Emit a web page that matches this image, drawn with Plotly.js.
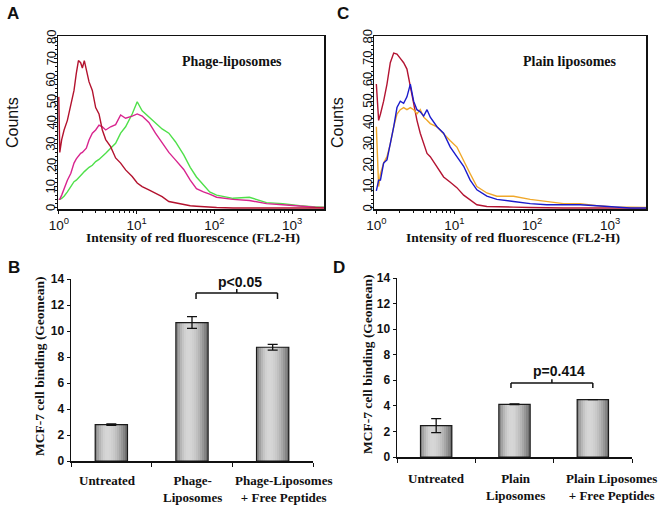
<!DOCTYPE html>
<html><head><meta charset="utf-8">
<script src="https://cdn.plot.ly/plotly-3.0.1.min.js"></script>
<style>html,body{margin:0;padding:0;background:#fff}#chart{width:663px;height:509px}</style>
</head><body><div id="chart"></div>
<script>
// ---------- Panel A: flow cytometry histograms (Phage-liposomes) ----------
const fluorA = [1.00,1.03,1.09,1.17,1.29,1.43,1.57,1.68,1.79,1.91,2.01,2.13,2.26,2.45,2.70,2.98,3.29,3.63,4.01,4.64,5.38,6.24,7.23,8.79,10.2,11.8,14.4,17.5,21.3,26.0,31.6,40.4,49.0,58.9,72.4,87.1,107,174,282,468,759,1259,1995,2570];
const countsA_untreated = [52,26,32,36.5,41,49,55,63,69,68,65.5,69,64,59,55,47,44,36.5,32,28.7,23.4,21,17.8,14.7,11.7,10,8.4,7,5.3,3,2.3,1.4,1,0.8,0.5,0.3,0.2,0,0,0,0,0,0,0];
const countsA_peptides  = [4,4,6,9,13,16.2,21,23,24.5,25.6,26,27,28,31.8,35,36.5,38.8,38,36.5,38,39,43.5,42,43,44,43,40,35,30.5,26,22.5,18,13,9,7.5,6.5,5,4,3.5,2,1.5,0.7,0.3,0.2];
const countsA_phage     = [4,4,4.5,5.5,7.5,10,12.3,13,14,14.7,16,17,18,19,20,21.7,22.7,24,25.6,27.9,30.3,35,38,44,49.7,45.5,42.7,40,37,35,31,24.8,19,14.5,11,7.5,6,4.5,5,2.5,2,1,0.5,0.3];

// ---------- Panel C: flow cytometry histograms (Plain liposomes) ----------
const fluorC = [1.00,1.07,1.13,1.24,1.37,1.51,1.67,1.84,2.03,2.24,2.47,2.73,3.01,3.32,3.66,4.05,4.47,4.92,6.00,7.30,8.89,10.8,13.2,16.0,19.5,26.2,35.2,57.5,94.2,154,252,412,675,1104,1805,2890];
const countsC_untreated = [58,41,44,50,58,68,72.5,72,70,68,65,56.5,50,41,35,30,25.5,24,19.5,14.5,12,9.5,6,3.7,1.5,0.7,0.5,0.4,0.2,0,0,0,0,0,0,0];
const countsC_plain     = [8,13,13,21,22.5,30,38,47,50,49,52,58,50,46,45,43,46,42.5,38,35,28.5,24,19.5,13,8.5,5.5,4,3,2,1.5,1.5,1.5,1,0.5,0,0];
const countsC_peptides  = [38,10,16,21,24,30,38,44,46,47,46,47,46,44,46,42.5,41,39.5,38,35,31.5,28.5,22.5,16,10,7,5.5,5.5,4,3,2,2,1,0.5,0.3,0.2];

const histTickVals = [1,10,100,1000];
const histTickText = ['10<sup>0</sup>','10<sup>1</sup>','10<sup>2</sup>','10<sup>3</sup>'];
const histMinor = [2,3,4,5,6,7,8,9,20,30,40,50,60,70,80,90,200,300,400,500,600,700,800,900,2000];
const countTicks = [0,10,20,30,40,50,60,70,80];

// ---------- Panel B / D: bar charts ----------
const catsB = ['Untreated','Phage-Liposomes','Phage-Liposomes + Free Peptides'];
const labelsB = ['Untreated','Phage-<br>Liposomes','Phage-Liposomes<br>+ Free Peptides'];
const valsB = [2.8, 10.65, 8.75];
const errsB = [0.05, 0.45, 0.22];

const catsD = ['Untreated','Plain Liposomes','Plain Liposomes + Free Peptides'];
const labelsD = ['Untreated','Plain<br>Liposomes','Plain Liposomes<br>+ Free Peptides'];
const valsD = [2.45, 4.12, 4.48];
const errsD = [0.55, 0.03, 0];

const bindTicks = [0,2,4,6,8,10,12,14];

// ---------- traces ----------
function hist(x, y, color, xa, ya){
  return {type:'scatter', mode:'lines', x:x, y:y, xaxis:xa, yaxis:ya,
          line:{color:color, width:1.4, shape:'linear'}, hoverinfo:'skip', showlegend:false};
}
const BW = 0.4;
function bars(cats, vals, errs, xa, ya){
  const N = 16, out = [];
  for (let i = 0; i < N; i++){
    const t = (i + 0.5) / N;
    let l = t < 0.38 ? 214 - 92*Math.pow((0.38 - t)/0.38, 2) : 214 - 112*Math.pow((t - 0.38)/0.62, 2);
    l = Math.round(l);
    out.push({type:'bar', x:cats, y:vals, xaxis:xa, yaxis:ya,
      width: i === N-1 ? BW/N : BW/N*1.2, offset: -BW/2 + i*BW/N,
      marker:{color:`rgb(${l},${l},${l})`, line:{width:0}}, hoverinfo:'skip', showlegend:false});
  }
  out.push({type:'bar', x:cats, y:vals, xaxis:xa, yaxis:ya, width:BW, offset:-BW/2,
    marker:{color:'rgba(0,0,0,0)', line:{color:'#1a1a1a', width:1.2}},
    error_y:{type:'data', array:errs, visible:true, color:'#111', thickness:1.3, width:5},
    hoverinfo:'skip', showlegend:false});
  return out;
}

const data = [
  hist(fluorA, countsA_phage, '#4fe04a', 'x', 'y'),
  hist(fluorA, countsA_peptides, '#d8248e', 'x', 'y'),
  hist(fluorA, countsA_untreated, '#b3122e', 'x', 'y'),
  hist(fluorC, countsC_untreated, '#b31432', 'x2', 'y2'),
  hist(fluorC, countsC_peptides, '#f0a82a', 'x2', 'y2'),
  hist(fluorC, countsC_plain, '#1a1acc', 'x2', 'y2'),
  ...bars(catsB, valsB, errsB, 'x3', 'y3'),
  ...bars(catsD, valsD, errsD, 'x4', 'y4')
];

// ---------- layout ----------
const W = 663, H = 509;
const px = v => v / W, py = v => 1 - v / H;
const tickFontHist = {family:'Liberation Sans, Arial', size:13.5, color:'#111'};
const countFont = {family:'Liberation Sans Narrow, Liberation Sans, Arial', size:13, color:'#111'};

function histX(domain, range, anchor){
  return {domain:domain, anchor:anchor, type:'log', range:range, showgrid:false, zeroline:false,
    showline:true, mirror:true, linecolor:'#111', linewidth:1.5,
    tickmode:'array', tickvals:histTickVals, ticktext:histTickText, ticks:'outside', ticklen:3, tickcolor:'#111',
    tickfont:tickFontHist,
    minor:{tickmode:'array', tickvals:histMinor, ticks:'outside', ticklen:2, tickcolor:'#111'}};
}
function histY(domain, anchor){
  return {domain:domain, anchor:anchor, range:[-0.5,80.5], showgrid:false, zeroline:false,
    showline:true, mirror:true, linecolor:'#111', linewidth:1.5,
    tickmode:'array', tickvals:countTicks, ticks:'outside', ticklen:3, tickcolor:'#111',
    showticklabels:false,
    minor:{dtick:2, ticks:'outside', ticklen:2, tickcolor:'#111'}};
}
function barX(domain, anchor){
  return {domain:domain, anchor:anchor, type:'category', range:[-0.5,2.5], showgrid:false, zeroline:false,
    showline:true, linecolor:'#111', linewidth:2, ticks:'outside', tickson:'boundaries', ticklen:4,
    tickcolor:'#111', showticklabels:false};
}
function barY(domain, anchor){
  return {domain:domain, anchor:anchor, range:[0,14], showgrid:false, zeroline:false,
    showline:true, linecolor:'#111', linewidth:1.5, tickmode:'array', tickvals:bindTicks,
    ticks:'outside', ticklen:3, tickcolor:'#111',
    tickfont:{family:'Liberation Sans, Arial', size:12, color:'#111', weight:'bold'}};
}

const serifBold = s => ({family:'Liberation Serif, Times New Roman', size:s, color:'#111'});
const letterFont = {family:'Liberation Sans, Arial', size:17, color:'#111'};

function paperText(text, x, y, font, extra){
  return Object.assign({text:text, xref:'paper', yref:'paper', x:px(x), y:py(y),
    xanchor:'center', yanchor:'middle', showarrow:false, font:font}, extra || {});
}

const annotations = [
  paperText('<b>A</b>', 13, 13, letterFont),
  paperText('<b>C</b>', 343, 13, letterFont),
  paperText('<b>B</b>', 14, 267, letterFont),
  paperText('<b>D</b>', 339, 267, letterFont),
  paperText('<b>Phage-liposomes</b>', 232, 62, serifBold(14)),
  paperText('<b>Plain liposomes</b>', 570, 62, serifBold(14)),
  paperText('<b>Intensity of red fluorescence (FL2-H)</b>', 193, 237, serifBold(13.5)),
  paperText('<b>Intensity of red fluorescence (FL2-H)</b>', 513, 237, serifBold(13.5)),
  paperText('Counts', 13, 123, {family:'Liberation Sans Narrow, Liberation Sans, Arial', size:16, color:'#111'}, {textangle:-90}),
  paperText('Counts', 338, 123, {family:'Liberation Sans Narrow, Liberation Sans, Arial', size:16, color:'#111'}, {textangle:-90}),
  paperText('<b>MCF-7 cell binding (Geomean)</b>', 39, 366, serifBold(13.5), {textangle:-90}),
  paperText('<b>MCF-7 cell binding (Geomean)</b>', 367, 364, serifBold(13.5), {textangle:-90}),
  {text:'<b>p&lt;0.05</b>', xref:'x3', yref:'y3', x:1.59, y:13.75, showarrow:false, xanchor:'center', yanchor:'middle',
   font:{family:'Liberation Sans, Arial', size:14, color:'#111'}},
  {text:'<b>p=0.414</b>', xref:'x4', yref:'y4', x:1.57, y:6.74, showarrow:false, xanchor:'center', yanchor:'middle',
   font:{family:'Liberation Sans, Arial', size:14, color:'#111'}}
];
// rotated count tick labels placed against the histogram y axes
countTicks.forEach(v => {
  annotations.push({text:String(v), xref:'paper', yref:'y', x:px(51), y:v, xanchor:'center', yanchor:'middle',
    textangle:-90, showarrow:false, font:countFont});
  annotations.push({text:String(v), xref:'paper', yref:'y2', x:px(367.5), y:v, xanchor:'center', yanchor:'middle',
    textangle:-90, showarrow:false, font:countFont});
});
const labelPosB = [-0.05, 1.0, 2.14];
const labelPosD = [0.01, 1.01, 2.24];
labelsB.forEach((t, i) => annotations.push({text:'<b>'+t+'</b>', xref:'x3', yref:'y3', x:labelPosB[i], y:0,
  yanchor:'top', yshift:-10, xanchor:'center', showarrow:false, font:serifBold(13)}));
labelsD.forEach((t, i) => annotations.push({text:'<b>'+t+'</b>', xref:'x4', yref:'y4', x:labelPosD[i], y:0,
  yanchor:'top', yshift:-12, xanchor:'center', showarrow:false, font:serifBold(13)}));

function bracket(xa, ya, x0, x1, yTop, yTip, yMid){
  const ln = {color:'#111', width:1.5};
  return [
    {type:'line', xref:xa, yref:ya, x0:x0, x1:x1, y0:yTop, y1:yTop, line:ln},
    {type:'line', xref:xa, yref:ya, x0:x0, x1:x0, y0:yTop, y1:yTip, line:ln},
    {type:'line', xref:xa, yref:ya, x0:x1, x1:x1, y0:yTop, y1:yTip, line:ln},
    {type:'line', xref:xa, yref:ya, x0:(x0+x1)/2, x1:(x0+x1)/2, y0:yTop, y1:yMid, line:ln}
  ];
}
const shapes = [
  {type:'line', xref:'x', yref:'y domain', x0:0, x1:0, y0:0, y1:1, line:{color:'#a0124a', width:3}},
  {type:'line', xref:'x2', yref:'y2 domain', x0:0, x1:0, y0:0, y1:1, line:{color:'#c8913a', width:2.5}},
  {type:'line', xref:'x2', yref:'y2 domain', x0:0, x1:0, y0:0, y1:0.5, line:{color:'#f0a020', width:2.5}},
  ...bracket('x3', 'y3', 1.05, 2.06, 12.92, 12.46, 13.23),
  ...bracket('x4', 'y4', 0.955, 2.0, 5.78, 5.39, 6.09)
];

const layout = {
  width:W, height:H, margin:{l:0, r:0, t:0, b:0}, paper_bgcolor:'#fff', plot_bgcolor:'#fff',
  showlegend:false, barmode:'overlay', bargap:0,
  font:{family:'Liberation Sans, Arial', color:'#111'},
  xaxis: histX([px(58), px(324)], [-0.01, 3.41], 'y'),
  yaxis: histY([py(209), py(36)], 'x'),
  xaxis2: histX([px(374), px(646)], [-0.03, 3.46], 'y2'),
  yaxis2: histY([py(209), py(36)], 'x2'),
  xaxis3: barX([px(71), px(313)], 'y3'),
  yaxis3: barY([py(461), py(279)], 'x3'),
  xaxis4: barX([px(397), px(632)], 'y4'),
  yaxis4: barY([py(457), py(278)], 'x4'),
  annotations:annotations, shapes:shapes
};

Plotly.newPlot('chart', data, layout, {staticPlot:true, displayModeBar:false});
</script>
</body></html>
